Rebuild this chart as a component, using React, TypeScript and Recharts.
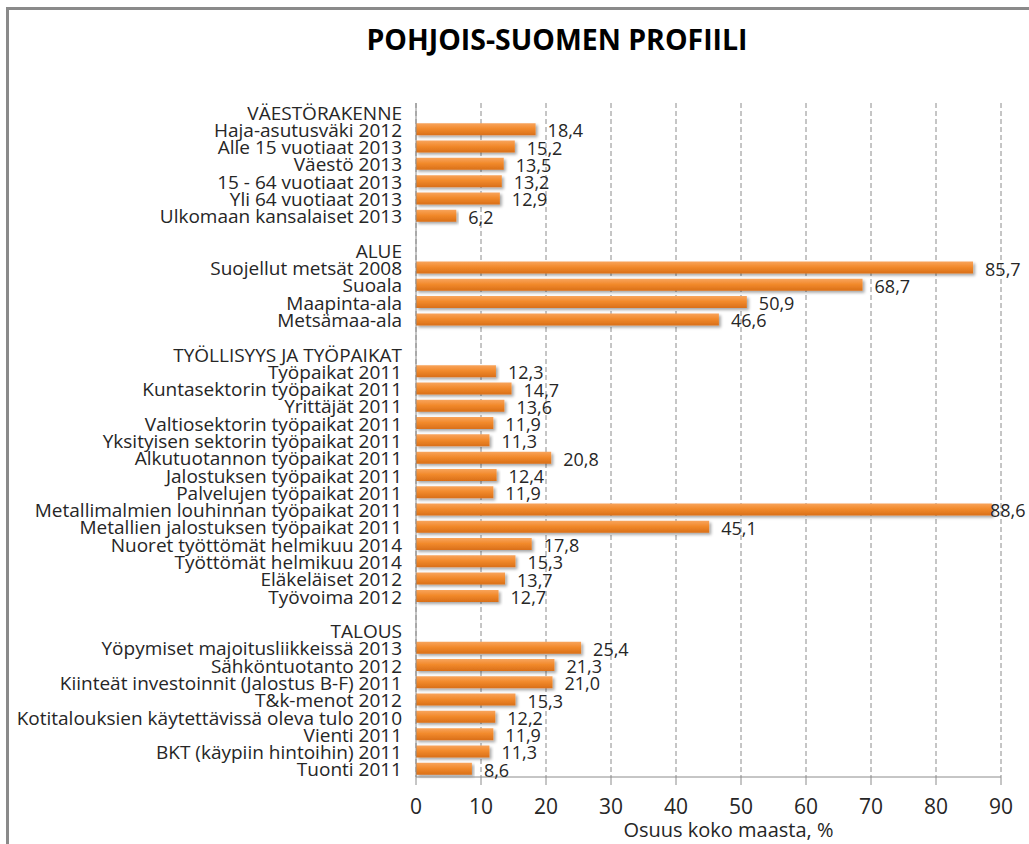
import React from "react";
import {
  BarChart,
  Bar,
  XAxis,
  YAxis,
  CartesianGrid,
  LabelList,
} from "recharts";

const FONT = "'Open Sans', Lato, sans-serif";

const groupTitles = [
  "VÄESTÖRAKENNE",
  "ALUE",
  "TYÖLLISYYS JA TYÖPAIKAT",
  "TALOUS",
];

const vaestoNames = [
  "Haja-asutusväki 2012",
  "Alle 15 vuotiaat 2013",
  "Väestö 2013",
  "15 - 64 vuotiaat 2013",
  "Yli 64 vuotiaat 2013",
  "Ulkomaan kansalaiset 2013",
];
const vaestoValues = [18.4, 15.2, 13.5, 13.2, 12.9, 6.2];

const alueNames = [
  "Suojellut metsät 2008",
  "Suoala",
  "Maapinta-ala",
  "Metsämaa-ala",
];
const alueValues = [85.7, 68.7, 50.9, 46.6];

const tyoNames = [
  "Työpaikat 2011",
  "Kuntasektorin työpaikat 2011",
  "Yrittäjät 2011",
  "Valtiosektorin työpaikat 2011",
  "Yksityisen sektorin työpaikat 2011",
  "Alkutuotannon työpaikat 2011",
  "Jalostuksen työpaikat 2011",
  "Palvelujen työpaikat 2011",
  "Metallimalmien louhinnan työpaikat 2011",
  "Metallien jalostuksen työpaikat 2011",
  "Nuoret työttömät helmikuu 2014",
  "Työttömät helmikuu 2014",
  "Eläkeläiset 2012",
  "Työvoima 2012",
];
const tyoValues = [
  12.3, 14.7, 13.6, 11.9, 11.3, 20.8, 12.4, 11.9, 88.6, 45.1, 17.8, 15.3, 13.7,
  12.7,
];

const talousNames = [
  "Yöpymiset majoitusliikkeissä 2013",
  "Sähköntuotanto 2012",
  "Kiinteät investoinnit (Jalostus B-F) 2011",
  "T&k-menot 2012",
  "Kotitalouksien käytettävissä oleva tulo 2010",
  "Vienti 2011",
  "BKT (käypiin hintoihin) 2011",
  "Tuonti 2011",
];
const talousValues = [25.4, 21.3, 21.0, 15.3, 12.2, 11.9, 11.3, 8.6];

const xTicks = [0, 10, 20, 30, 40, 50, 60, 70, 80, 90];

const groups = [
  { names: vaestoNames, values: vaestoValues },
  { names: alueNames, values: alueValues },
  { names: tyoNames, values: tyoValues },
  { names: talousNames, values: talousValues },
];

type Row = { name: string; value: number | null };
const data: Row[] = [];
groups.forEach((g, gi) => {
  if (gi > 0) data.push({ name: " ".repeat(gi), value: null });
  data.push({ name: groupTitles[gi], value: null });
  g.names.forEach((n, i) => data.push({ name: n, value: g.values[i] }));
});

const fmt = (v: number) => v.toFixed(1).replace(".", ",");

const ValueLabel = (props: any) => {
  const { x, y, width, height, value } = props;
  if (value === null || value === undefined) return null;
  const tx = Math.min(x + width + 12, 990);
  return (
    <text
      x={tx}
      y={y + height / 2 + 1}
      dominantBaseline="central"
      fontFamily={FONT}
      fontSize={18}
      fill="#262626"
    >
      {fmt(value)}
    </text>
  );
};

const CatTick = (props: any) => {
  const { x, y, payload } = props;
  return (
    <text
      x={x}
      y={y + 1}
      textAnchor="end"
      dominantBaseline="central"
      fontFamily={FONT}
      fontSize={19}
      fill="#262626"
    >
      {payload.value}
    </text>
  );
};

export default function App() {
  return (
    <div
      style={{
        position: "absolute",
        left: 0,
        top: 0,
        width: 1029,
        height: 844,
        background: "#fff",
        overflow: "hidden",
      }}
    >
      <div
        style={{
          position: "absolute",
          left: 6,
          top: 7,
          width: 1040,
          height: 860,
          borderTop: "3px solid #8a8a8a",
          borderLeft: "3px solid #8a8a8a",
        }}
      />
      <svg
        width={1029}
        height={70}
        style={{ position: "absolute", left: 0, top: 0 }}
      >
        <text
          x={557}
          y={50}
          textAnchor="middle"
          fontFamily={FONT}
          fontWeight={700}
          fontSize={29}
          textLength={381}
          lengthAdjust="spacingAndGlyphs"
          fill="#000"
        >
          POHJOIS-SUOMEN PROFIILI
        </text>
      </svg>
      <div style={{ position: "absolute", left: 0, top: 0 }}>
        <BarChart
          width={1029}
          height={844}
          data={data}
          layout="vertical"
          margin={{ top: 103, right: 28, bottom: 0, left: 10 }}
          barCategoryGap={3}
        >
          <defs>
            <linearGradient id="barGrad" x1="0" y1="0" x2="0" y2="1">
              <stop offset="0%" stopColor="#f8a45c" />
              <stop offset="45%" stopColor="#f28a2c" />
              <stop offset="100%" stopColor="#d96f18" />
            </linearGradient>
            <filter id="barShadow" x="-5%" y="-30%" width="110%" height="180%">
              <feDropShadow
                dx="2"
                dy="2"
                stdDeviation="1.5"
                floodColor="#000"
                floodOpacity="0.35"
              />
            </filter>
          </defs>
          <CartesianGrid
            horizontal={false}
            stroke="#8c8c8c"
            strokeDasharray="5 3"
          />
          <XAxis
            type="number"
            domain={[0, 90]}
            ticks={xTicks}
            interval={0}
            height={67}
            stroke="#8c8c8c"
            tickSize={8}
            tick={{ fontFamily: FONT, fontSize: 21, fill: "#262626" }}
            tickMargin={14}
            label={{
              value: "Osuus koko maasta, %",
              position: "insideBottom",
              offset: 7,
              dx: 20,
              style: { fontFamily: FONT, fontSize: 20, fill: "#262626" },
            }}
          />
          <YAxis
            type="category"
            dataKey="name"
            width={406}
            interval={0}
            stroke="#8c8c8c"
            tickLine={false}
            tickSize={0}
            tickMargin={14}
            tick={<CatTick />}
          />
          <Bar
            dataKey="value"
            barSize={12}
            fill="url(#barGrad)"
            filter="url(#barShadow)"
            isAnimationActive={false}
          >
            <LabelList dataKey="value" content={<ValueLabel />} />
          </Bar>
        </BarChart>
      </div>
    </div>
  );
}
